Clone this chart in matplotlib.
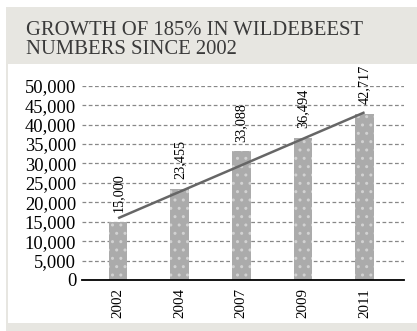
import matplotlib
matplotlib.use("Agg")
import matplotlib.pyplot as plt
from matplotlib.patches import Rectangle
import numpy as np

# Wildebeest counts by survey year
years = ["2002", "2004", "2007", "2009", "2011"]
counts = [15000, 23455, 33088, 36494, 42717]
# Trend line end values (first and last survey)
trend = [15900, 43150]
y_ticks = [0, 5000, 10000, 15000, 20000, 25000, 30000, 35000, 40000, 45000, 50000]

W, H = 417, 331
fig = plt.figure(figsize=(W / 100, H / 100), dpi=100, facecolor="white")

def px_rect(x0, y0, x1, y1, color):
    fig.add_artist(Rectangle((x0 / W, 1 - y1 / H), (x1 - x0) / W, (y1 - y0) / H,
                             transform=fig.transFigure, facecolor=color,
                             edgecolor="none", zorder=0))

frame = "#e7e6e1"
px_rect(6, 7, 417, 331, frame)
px_rect(8, 64, 417, 323, "white")

serif = ["Liberation Serif", "DejaVu Serif"]
# baseline anchor refers to the last line of a multi-line text
fig.text(26 / W, 1 - 54 / H, "GROWTH OF 185% IN WILDEBEEST\nNUMBERS SINCE 2002",
         family=serif, fontsize=14.9, color="#3a3a3a", ha="left", va="baseline",
         linespacing=1.03, multialignment="left")

ax = fig.add_axes([81.7 / W, 1 - 280 / H, (404 - 81.7) / W, (280 - 85.7) / H])
ax.set_facecolor("none")
x = np.arange(len(years))
ax.bar(x, counts, width=0.3, color="#ababab", edgecolor="#d2d2d2", hatch="..",
       linewidth=0, zorder=2)
ax.plot([x[0], x[-1]], trend, color="#666666", lw=1.8, zorder=3,
        solid_capstyle="butt")

for xi, v in zip(x, counts):
    ax.text(xi, v + 2500, f"{v:,}", rotation=90, ha="center", va="bottom",
            family=serif, fontsize=10.3, color="black", clip_on=False, zorder=4)

ax.set_xlim(-0.59, 4.64)
ax.set_ylim(0, 50000)
ax.set_yticks(y_ticks)
ax.set_yticklabels([f"{t:,}" for t in y_ticks], family=serif, fontsize=13.3)
ax.set_xticks(x)
ax.set_xticklabels(years, rotation=90, family=serif, fontsize=10.8)
ax.tick_params(axis="x", length=0, pad=6)
ax.tick_params(axis="y", length=0, pad=4)

for t in y_ticks[1:]:
    ax.axhline(t, color="#888888", lw=0.9, ls=(0, (3, 2)), zorder=1)

for s in ["left", "right", "top"]:
    ax.spines[s].set_visible(False)
ax.spines["bottom"].set_color("black")
ax.spines["bottom"].set_linewidth(1.3)
ax.spines["bottom"].set_zorder(5)

fig.savefig("out.png", dpi=100, facecolor="white")
